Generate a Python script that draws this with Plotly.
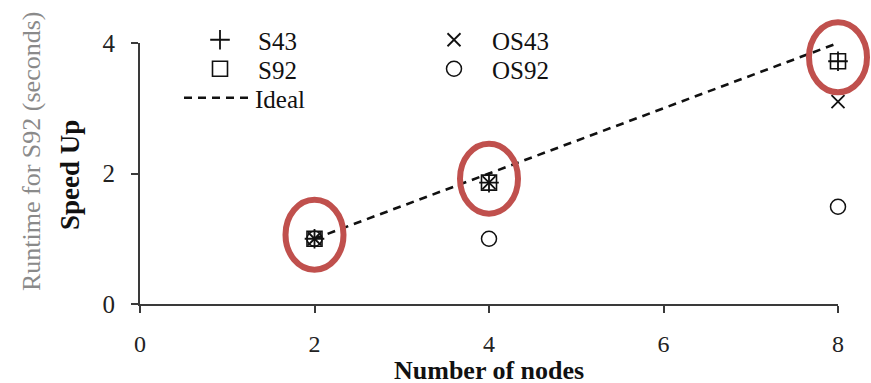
import plotly.graph_objects as go

nodes = [2, 4, 8]
s43 = [1.0, 1.86, 3.72]
s92 = [1.0, 1.86, 3.72]
os43 = [1.0, 1.86, 3.10]
os92 = [1.0, 1.0, 1.49]
ideal = [1.0, 2.0, 4.0]
x_ticks = [0, 2, 4, 6, 8]
y_ticks = [0, 2, 4]

FONT = "Liberation Serif"
BLACK = "#111111"
AX = "#3a3a3a"
W, H = 871, 383
# plot box in pixels
PL, PR, PT, PB = 140, 838, 43, 304
X_RANGE = [0, 8]
Y_RANGE = [0, 4]

fig = go.Figure()

fig.add_trace(go.Scatter(x=nodes, y=ideal, mode="lines", name="Ideal",
                         line=dict(color=BLACK, width=2.6, dash="8px,6px"),
                         legend="legend3", cliponaxis=False))
fig.add_trace(go.Scatter(x=nodes, y=os92, mode="markers", name="OS92",
                         marker=dict(symbol="circle-open", size=15, color=BLACK, line=dict(width=1.5)),
                         legend="legend5", cliponaxis=False))
fig.add_trace(go.Scatter(x=nodes, y=s92, mode="markers", name="S92",
                         marker=dict(symbol="square-open", size=15, color=BLACK, line=dict(width=1.6)),
                         legend="legend2", cliponaxis=False))
fig.add_trace(go.Scatter(x=nodes, y=os43, mode="markers", name="OS43",
                         marker=dict(symbol="x-thin", size=13, color=BLACK, line=dict(width=1.8, color=BLACK)),
                         legend="legend4", cliponaxis=False))
fig.add_trace(go.Scatter(x=nodes, y=s43, mode="markers", name="S43",
                         marker=dict(symbol="cross-thin", size=14, color=BLACK, line=dict(width=1.8, color=BLACK)),
                         legend="legend", cliponaxis=False))

# overlay axes spanning the whole page, with the same value-to-pixel mapping,
# so highlight ellipses are not clipped by the plot box
sx = (X_RANGE[1] - X_RANGE[0]) / (PR - PL)
sy = (Y_RANGE[1] - Y_RANGE[0]) / (PB - PT)
x2_range = [X_RANGE[0] - PL * sx, X_RANGE[0] + (W - PL) * sx]
y2_range = [Y_RANGE[0] - (H - PB) * sy, Y_RANGE[0] + PB * sy]

for xv, yv in zip(nodes, s92):
    fig.add_shape(type="circle", xref="x2", yref="y2", xsizemode="pixel", ysizemode="pixel",
                  xanchor=xv, yanchor=yv, x0=-29, x1=29, y0=-31, y1=39,
                  line=dict(color="#C0504D", width=6), fillcolor="rgba(0,0,0,0)", layer="above")

fig.add_annotation(text="<b>Speed Up</b>", xref="paper", yref="paper", x=70 / W, y=1 - 175 / H,
                   xanchor="center", yanchor="middle", textangle=-90, showarrow=False,
                   font=dict(family=FONT, size=27, color=BLACK))
fig.add_annotation(text="Runtime for S92 (seconds)", xref="paper", yref="paper", x=31 / W, y=1 - 152 / H,
                   xanchor="center", yanchor="middle", textangle=-90, showarrow=False,
                   font=dict(family=FONT, size=26, color="#8a8a8a"))
fig.add_annotation(text="<b>Number of nodes</b>", xref="paper", yref="paper", x=489 / W, y=1 - 370 / H,
                   xanchor="center", yanchor="middle", showarrow=False,
                   font=dict(family=FONT, size=26, color=BLACK))

leg_common = dict(font=dict(family=FONT, size=25, color=BLACK), bgcolor="rgba(0,0,0,0)",
                  borderwidth=0, itemwidth=66, orientation="v",
                  xanchor="left", yanchor="middle", xref="paper", yref="paper")

def leg(px, py):
    return dict(**leg_common, x=px / W, y=1 - py / H)

fig.update_layout(
    width=W, height=H,
    margin=dict(l=0, r=0, t=0, b=0, autoexpand=False),
    paper_bgcolor="white", plot_bgcolor="rgba(0,0,0,0)",
    font=dict(family=FONT, size=24, color=BLACK),
    showlegend=True,
    legend=leg(182, 40),
    legend2=leg(182, 69),
    legend3=leg(179, 98),
    legend4=leg(416, 40),
    legend5=leg(416, 69),
    xaxis=dict(domain=[PL / W, PR / W], range=X_RANGE, tickvals=x_ticks,
               ticktext=[str(v) for v in x_ticks],
               showgrid=False, zeroline=False, showline=True, linecolor=AX, linewidth=2,
               ticks="outside", ticklen=7, tickwidth=2, tickcolor=AX,
               ticklabelstandoff=10, tickfont=dict(family=FONT, size=24, color="#222222")),
    yaxis=dict(domain=[1 - PB / H, 1 - PT / H], range=Y_RANGE, tickvals=y_ticks,
               ticktext=[str(v) for v in y_ticks],
               showgrid=False, zeroline=False, showline=True, linecolor=AX, linewidth=2,
               ticks="outside", ticklen=7, tickwidth=2, tickcolor=AX,
               ticklabelstandoff=11, tickfont=dict(family=FONT, size=25, color="#222222")),
    xaxis2=dict(domain=[0, 1], range=x2_range, visible=False, anchor="y2"),
    yaxis2=dict(domain=[0, 1], range=y2_range, visible=False, anchor="x2"),
)

fig.write_html("out.html")
